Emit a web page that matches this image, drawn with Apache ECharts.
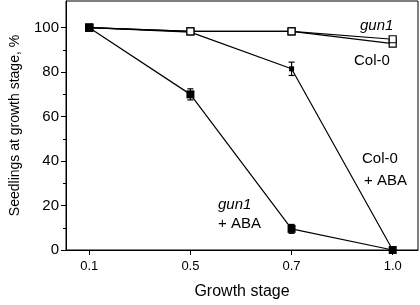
<!DOCTYPE html>
<html>
<head>
<meta charset="utf-8">
<script src="https://cdn.jsdelivr.net/npm/echarts@6/dist/echarts.min.js"></script>
<style>
html, body { margin: 0; padding: 0; background: #fff; }
#chart { width: 420px; height: 305px; }
</style>
</head>
<body>
<div id="chart"></div>
<script>
// growth stages (equally spaced on the axis)
var stages = ['0.1', '0.5', '0.7', '1.0'];
var yTicks = [0, 20, 40, 60, 80, 100];
var yMinorTicks = [10, 30, 50, 70, 90];

var gun1 = [100, 98.3, 98.3, 94.8];
var col0 = [100, 98.3, 98.3, 92.8];
var col0Aba = [100, 98, 81.5, 0];
var col0AbaErr = [0, 0, 3, 0];
var gun1Aba = [100, 70, 9.5, 0];
var gun1AbaErr = [0, 2.5, 2, 1];

var FONT = 'Liberation Sans';

function pts(arr) {
    return arr.map(function (v, i) { return [i, v]; });
}
function errPts(arr, err) {
    return arr.map(function (v, i) { return [i, v - err[i], v + err[i]]; });
}

function renderErr(params, api) {
    var x = api.value(0);
    var lo = api.coord([x, api.value(1)]);
    var hi = api.coord([x, api.value(2)]);
    if (Math.abs(hi[1] - lo[1]) < 0.5) return;
    var w = 3;
    var st = { stroke: '#000', lineWidth: 1.2 };
    return {
        type: 'group',
        children: [
            { type: 'line', shape: { x1: hi[0], y1: hi[1], x2: lo[0], y2: lo[1] }, style: st },
            { type: 'line', shape: { x1: hi[0] - w, y1: hi[1], x2: hi[0] + w, y2: hi[1] }, style: st },
            { type: 'line', shape: { x1: lo[0] - w, y1: lo[1], x2: lo[0] + w, y2: lo[1] }, style: st }
        ]
    };
}

var myChart = echarts.init(document.getElementById('chart'), null, { renderer: 'canvas' });

var lineStyle = { color: '#000', width: 1.2 };

var option = {
    animation: false,
    backgroundColor: '#fff',
    textStyle: { fontFamily: FONT },
    grid: {
        left: 64, right: 2, top: 1, bottom: 55,
        show: true, borderColor: '#000', borderWidth: 1
    },
    xAxis: {
        type: 'value',
        min: -0.23,
        max: 3.25,
        splitLine: { show: false },
        axisLine: { onZero: false, lineStyle: { color: '#000' } },
        axisTick: { customValues: [0, 1, 2, 3], length: 5, lineStyle: { color: '#000' } },
        axisLabel: {
            customValues: [0, 1, 2, 3],
            color: '#000', fontSize: 13, fontFamily: FONT, margin: 10,
            formatter: function (v) { return stages[Math.round(v)]; }
        },
        name: 'Growth stage',
        nameLocation: 'middle',
        nameGap: 34,
        nameTextStyle: { color: '#000', fontSize: 16, fontFamily: FONT }
    },
    yAxis: [{
        type: 'value',
        min: 0,
        max: 112,
        splitLine: { show: false },
        axisLine: { show: true, onZero: false, lineStyle: { color: '#000' } },
        axisTick: { show: true, customValues: yTicks, length: 5, lineStyle: { color: '#000' } },
        axisLabel: { customValues: yTicks, color: '#000', fontSize: 15, fontFamily: FONT, margin: 7 },
        name: 'Seedlings at growth stage, %',
        nameLocation: 'middle',
        nameGap: 44,
        nameTextStyle: { color: '#000', fontSize: 14, fontFamily: FONT }
    }, {
        type: 'value',
        position: 'left',
        min: 0,
        max: 112,
        splitLine: { show: false },
        axisLine: { show: false, onZero: false },
        axisTick: { show: true, customValues: yMinorTicks, length: 3, lineStyle: { color: '#000' } },
        axisLabel: { show: false }
    }],
    series: [
        {
            name: 'Col-0 + ABA', type: 'line', data: pts(col0Aba), z: 2,
            symbol: 'rect', symbolSize: 5,
            itemStyle: { color: '#000' }, lineStyle: lineStyle
        },
        {
            type: 'custom', data: errPts(col0Aba, col0AbaErr), renderItem: renderErr, z: 2
        },
        {
            name: 'Col-0', type: 'line', data: pts(col0), z: 3,
            symbol: 'rect', symbolSize: 7,
            itemStyle: { color: '#fff', borderColor: '#000', borderWidth: 1.2 }, lineStyle: lineStyle
        },
        {
            name: 'gun1', type: 'line', data: pts(gun1), z: 3,
            symbol: 'rect', symbolSize: 7,
            itemStyle: { color: '#fff', borderColor: '#000', borderWidth: 1.2 }, lineStyle: lineStyle
        },
        {
            type: 'custom', data: errPts(gun1Aba, gun1AbaErr), renderItem: renderErr, z: 4
        },
        {
            name: 'gun1 + ABA', type: 'line', data: pts(gun1Aba), z: 5,
            symbol: 'rect', symbolSize: 8,
            itemStyle: { color: '#000' }, lineStyle: lineStyle
        }
    ],
    graphic: [
        { type: 'text', left: 360, top: 18, style: { text: 'gun1', font: 'italic 15px "Liberation Sans"', fill: '#000' } },
        { type: 'text', left: 354, top: 53, style: { text: 'Col-0', font: '15px "Liberation Sans"', fill: '#000' } },
        { type: 'text', left: 362, top: 151, style: { text: 'Col-0', font: '15px "Liberation Sans"', fill: '#000' } },
        { type: 'text', left: 364, top: 173, style: { text: '+ ABA', font: '15px "Liberation Sans"', fill: '#000' } },
        { type: 'text', left: 218, top: 197, style: { text: 'gun1', font: 'italic 15px "Liberation Sans"', fill: '#000' } },
        { type: 'text', left: 218, top: 216, style: { text: '+ ABA', font: '15px "Liberation Sans"', fill: '#000' } }
    ]
};

myChart.setOption(option);
window.addEventListener('resize', function () {
    myChart.resize();
});
</script>
</body>
</html>
